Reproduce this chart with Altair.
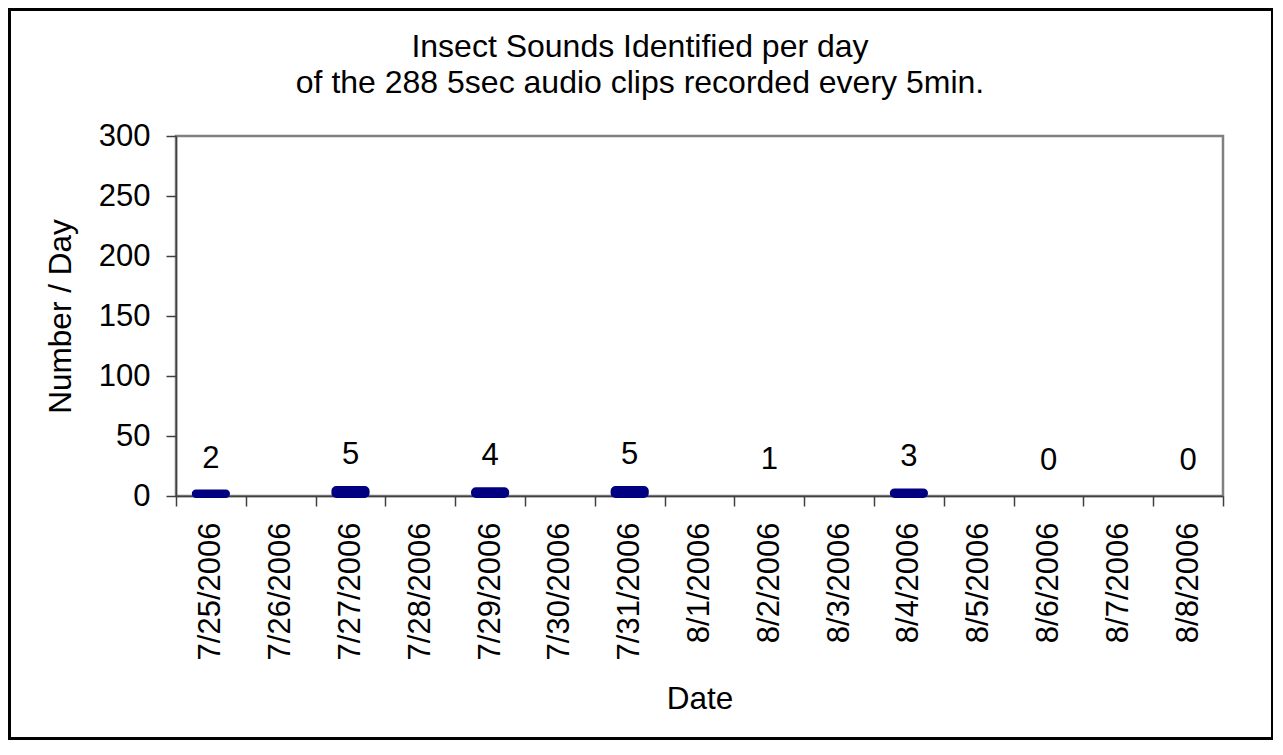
import altair as alt
import pandas as pd

# ---- data ----
dates = ["7/25/2006", "7/26/2006", "7/27/2006", "7/28/2006", "7/29/2006",
         "7/30/2006", "7/31/2006", "8/1/2006", "8/2/2006", "8/3/2006",
         "8/4/2006", "8/5/2006", "8/6/2006", "8/7/2006", "8/8/2006"]
label_dates = ["7/25/2006", "7/27/2006", "7/29/2006", "7/31/2006",
               "8/2/2006", "8/4/2006", "8/6/2006", "8/8/2006"]
counts = [2, 5, 4, 5, 1, 3, 0, 0]
y_ticks = [0, 50, 100, 150, 200, 250, 300]
title_lines = ["Insect Sounds Identified per day",
               "of the 288 5sec audio clips recorded every 5min."]
x_title = "Date"
y_title = "Number / Day"

df = pd.DataFrame({"date": label_dates, "n": counts})

W, H = 1047, 360
FONT = "Liberation Sans"
NAVY = "#000080"

x_enc = alt.X(
    "date:N",
    scale=alt.Scale(domain=dates, paddingInner=0, paddingOuter=0),
    axis=alt.Axis(
        title=x_title, labelAngle=270, tickBand="extent", tickSize=10,
        labelPadding=16, labelOverlap=False,
        titleX=W / 2, titleY=212, titleAlign="center", titleBaseline="alphabetic",
    ),
)
y_enc = alt.Y(
    "n:Q",
    scale=alt.Scale(domain=[0, 300], nice=False),
    stack=None,
    axis=alt.Axis(
        title=y_title, values=y_ticks, tickSize=10, labelPadding=16,
        labelOverlap=False,
        titleX=-106, titleY=H / 2, titleAngle=270, titleAlign="center",
        titleBaseline="alphabetic",
    ),
)

# bars below the Excel rendering threshold (values 0 and 1) are not visible in the reference
bars = alt.Chart(df).transform_filter(
    "datum.n >= 2"
).mark_bar(
    width=alt.RelativeBandSize(0.49), color=NAVY, stroke=NAVY,
    strokeWidth=4, cornerRadius=3, strokeJoin="round", yOffset=-2,
).encode(x=x_enc, y=y_enc)

labels = alt.Chart(df).mark_text(
    dy=-26, baseline="alphabetic", align="center", fontSize=31, font=FONT, color="black"
).encode(x=x_enc, y=y_enc, text="n:Q")

one = pd.DataFrame({"k": [0]})
border = alt.Chart(one).mark_rect(
    fill="transparent", stroke="black", strokeWidth=3
).encode(
    x=alt.value(-166.5), x2=alt.value(1096.5), y=alt.value(-126.5), y2=alt.value(602.5)
)

t1 = alt.Chart(one).mark_text(
    fontSize=32, font=FONT, align="center", baseline="alphabetic", color="black"
).encode(x=alt.value(464), y=alt.value(-79), text=alt.value(title_lines[0]))
t2 = alt.Chart(one).mark_text(
    fontSize=32, font=FONT, align="center", baseline="alphabetic", color="black"
).encode(x=alt.value(464), y=alt.value(-43), text=alt.value(title_lines[1]))

chart = alt.layer(border, bars, labels, t1, t2).properties(
    width=W, height=H,
    padding={"left": 168, "top": 128, "right": 50, "bottom": 244},
    autosize=alt.AutoSizeParams(type="none"),
    background="white",
).configure_view(
    stroke="#808080", strokeWidth=2.5
).configure_axis(
    grid=False, domainColor="#404040", domainWidth=1.5, tickColor="#404040",
    tickWidth=1.5, labelFont=FONT, labelFontSize=31, labelColor="black",
    titleFont=FONT, titleFontSize=31.5, titleFontWeight="normal", titleColor="black",
    zindex=1,
)

chart.save("out.html", embed_options={"renderer": "svg", "actions": False})
